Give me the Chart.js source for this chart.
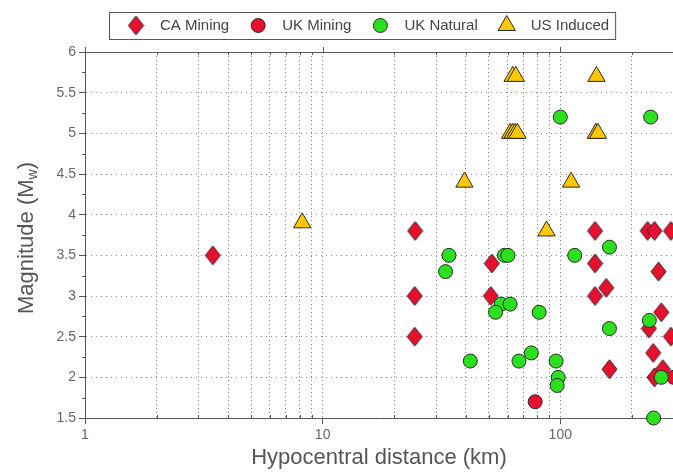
<!DOCTYPE html>
<html>
<head>
<meta charset="utf-8">
<script src="https://cdn.jsdelivr.net/npm/chart.js@4.4.1/dist/chart.umd.min.js"></script>
<style>
  html, body { margin: 0; padding: 0; background: #fff; }
  #wrap { width: 673px; height: 474px; position: relative; }
</style>
</head>
<body>
<div id="wrap"><canvas id="grafico"></canvas></div>
<script>
// Values (distance km, magnitude Mw)
const caMiningDist = [3.45, 24.5, 24.4, 24.4, 51.5, 51, 140, 140, 140, 156, 161, 233, 249, 292, 259, 266, 236, 292, 246, 249, 270];
const caMiningMag  = [3.5, 3.8, 3.0, 2.5, 3.4, 3.0, 3.8, 3.4, 3.0, 3.1, 2.1, 3.8, 3.8, 3.8, 3.3, 2.8, 2.6, 2.5, 2.3, 2.0, 2.1];

const ukMiningDist = [78.4, 300];
const ukMiningMag  = [1.7, 2.0];

const ukNaturalDist = [100, 240, 161, 115, 34, 32.9, 58.2, 60.2, 56.4, 61.5, 53.4, 81.5, 237, 161, 41.8, 67, 75.5, 96, 98, 97, 266, 247];
const ukNaturalMag  = [5.2, 5.2, 3.6, 3.5, 3.5, 3.3, 3.5, 3.5, 2.9, 2.9, 2.8, 2.8, 2.7, 2.6, 2.2, 2.2, 2.3, 2.2, 2.0, 1.9, 2.0, 1.5];

const usInducedDist = [8.2, 39.5, 111, 87.5, 63, 65, 142, 61.5, 63, 64.5, 66, 141, 144];
const usInducedMag  = [3.9, 4.4, 4.4, 3.8, 5.7, 5.7, 5.7, 5.0, 5.0, 5.0, 5.0, 5.0, 5.0];

const seriesNames = ['CA Mining', 'UK Mining', 'UK Natural', 'US Induced'];

// Axis ticks
const xTickLabels = [1, 10, 100];
const xTickValues = [1, 2, 3, 4, 5, 6, 7, 8, 9, 10, 20, 30, 40, 50, 60, 70, 80, 90, 100, 200];
const yTickLabels = [1.5, 2, 2.5, 3, 3.5, 4, 4.5, 5, 5.5, 6];

const FONT = '"Liberation Sans", Arial, sans-serif';
const RED = '#E8102E', GREEN = '#2BE01C', GOLD = '#FFC800', EDGE = '#2a2a2a';
const AXIS = '#555', GRID = '#8a8a8a';

const toPoints = (xs, ys) => xs.map((x, i) => ({ x, y: ys[i] }));

// diamond marker (taller than wide)
const makeDiamond = (w, h, fill, stroke) => {
  const c = document.createElement('canvas');
  c.width = w + 2; c.height = h + 2;
  const g = c.getContext('2d');
  g.beginPath();
  g.moveTo(c.width / 2, 1);
  g.lineTo(c.width - 1, c.height / 2);
  g.lineTo(c.width / 2, c.height - 1);
  g.lineTo(1, c.height / 2);
  g.closePath();
  g.fillStyle = fill; g.fill();
  g.strokeStyle = stroke; g.lineWidth = 1; g.stroke();
  return c;
}
const diamond = makeDiamond(15, 19, RED, EDGE);

// borders, minor ticks, y title and legend box
const decoracion = {
  id: 'decoracion',
  beforeDatasetsDraw(chart) {
    const { ctx, chartArea: a, scales: { x, y } } = chart;
    ctx.save();
    ctx.strokeStyle = AXIS;
    ctx.lineWidth = 1;
    ctx.beginPath();
    // top frame line
    ctx.moveTo(a.left, a.top + 0.5); ctx.lineTo(a.right, a.top + 0.5);
    xTickValues.forEach(v => {
      const px = Math.round(x.getPixelForValue(v)) + 0.5;
      if (xTickLabels.includes(v)) {
        ctx.moveTo(px, a.top); ctx.lineTo(px, a.top - 5);
      } else {
        ctx.moveTo(px, a.top); ctx.lineTo(px, a.top + 3);
        ctx.moveTo(px, a.bottom); ctx.lineTo(px, a.bottom - 3);
      }
    });
    // minor y ticks
    for (let i = 0; i < yTickLabels.length - 1; i++) {
      const py = Math.round(y.getPixelForValue((yTickLabels[i] + yTickLabels[i + 1]) / 2)) + 0.5;
      ctx.moveTo(a.left, py); ctx.lineTo(a.left - 3, py);
    }
    ctx.stroke();
    ctx.restore();
  },
  afterDraw(chart) {
    const { ctx, chartArea: a } = chart;
    ctx.save();
    // y title with subscript
    ctx.fillStyle = '#555';
    ctx.textBaseline = 'middle';
    ctx.translate(27, (a.top + a.bottom) / 2 + 3);
    ctx.rotate(-Math.PI / 2);
    const big = '22px ' + FONT, small = '14px ' + FONT;
    ctx.font = big;
    const w1 = ctx.measureText('Magnitude (M').width;
    const w3 = ctx.measureText(')').width;
    ctx.font = small;
    const w2 = ctx.measureText('w').width;
    let cx = -(w1 + w2 + w3) / 2;
    ctx.font = big; ctx.fillText('Magnitude (M', cx, 0); cx += w1;
    ctx.font = small; ctx.fillText('w', cx, 6); cx += w2;
    ctx.font = big; ctx.fillText(')', cx, 0);
    ctx.restore();

    // legend
    ctx.save();
    ctx.font = '15px ' + FONT;
    ctx.textBaseline = 'middle';
    const boxLeft = 109, boxTop = 12, boxH = 27, cy = boxTop + boxH / 2;
    let px = boxLeft + 27;
    chart.data.datasets.forEach((ds, i) => {
      ctx.fillStyle = ds.backgroundColor;
      ctx.strokeStyle = ds.borderColor;
      ctx.lineWidth = 1;
      if (ds.pointStyle === 'circle') {
        ctx.beginPath(); ctx.arc(px, cy, ds.pointRadius, 0, Math.PI * 2); ctx.fill(); ctx.stroke();
      } else if (ds.pointStyle === 'triangle') {
        const r = ds.pointRadius;
        ctx.beginPath();
        ctx.moveTo(px, cy - r);
        ctx.lineTo(px + Math.sin(Math.PI * 2 / 3) * r, cy + r / 2);
        ctx.lineTo(px - Math.sin(Math.PI * 2 / 3) * r, cy + r / 2);
        ctx.closePath(); ctx.fill(); ctx.stroke();
      } else {
        ctx.drawImage(ds.pointStyle, px - ds.pointStyle.width / 2, cy - ds.pointStyle.height / 2);
      }
      ctx.fillStyle = '#444';
      ctx.fillText(ds.label, px + 24, cy);
      px += 24 + ctx.measureText(ds.label).width + 29;
    });
    const boxRight = px - 29 + 6;
    ctx.strokeStyle = '#555';
    ctx.strokeRect(boxLeft + 0.5, boxTop + 0.5, boxRight - boxLeft, boxH);
    ctx.restore();
  }
}

const grafico = new Chart(document.getElementById('grafico'), {
  type: 'scatter',
  data: {
    datasets: [
      { label: seriesNames[0], data: toPoints(caMiningDist, caMiningMag), pointStyle: diamond, pointRadius: 9,
        backgroundColor: RED, borderColor: EDGE, order: 3, clip: false },
      { label: seriesNames[1], data: toPoints(ukMiningDist, ukMiningMag), pointStyle: 'circle', pointRadius: 7,
        backgroundColor: RED, borderColor: EDGE, borderWidth: 1, order: 2, clip: false },
      { label: seriesNames[2], data: toPoints(ukNaturalDist, ukNaturalMag), pointStyle: 'circle', pointRadius: 7,
        backgroundColor: GREEN, borderColor: EDGE, borderWidth: 1, order: 0, clip: false },
      { label: seriesNames[3], data: toPoints(usInducedDist, usInducedMag), pointStyle: 'triangle', pointRadius: 10,
        backgroundColor: GOLD, borderColor: EDGE, borderWidth: 1, order: 1, clip: false }
    ]
  },
  options: {
    responsive: true,
    maintainAspectRatio: false,
    animation: false,
    layout: { autoPadding: false, padding: { left: 0, right: 0, top: 52, bottom: 0 } },
    plugins: { legend: { display: false }, tooltip: { enabled: false } },
    scales: {
      x: {
        type: 'logarithmic',
        min: 1,
        max: 298,
        afterFit: s => { s.height = 56; },
        afterBuildTicks: s => { s.ticks = xTickValues.map(v => ({ value: v })); },
        ticks: {
          autoSkip: false, maxRotation: 0, padding: 3,
          color: '#666', font: { family: FONT, size: 14 },
          callback: v => xTickLabels.includes(v) ? String(v) : ''
        },
        grid: {
          color: c => c.tick && c.tick.value === 1 ? 'rgba(0,0,0,0)' : GRID,
          tickColor: c => c.tick && xTickLabels.includes(c.tick.value) ? AXIS : 'rgba(0,0,0,0)',
          tickLength: 6
        },
        border: { color: AXIS, width: 1, dash: [1, 3] },
        title: {
          display: true, text: 'Hypocentral distance (km)', color: '#555',
          font: { family: FONT, size: 22 }, padding: { top: 0, bottom: 3 }
        }
      },
      y: {
        min: 1.5,
        max: 6,
        afterFit: s => { s.width = 85; },
        afterBuildTicks: s => { s.ticks = yTickLabels.map(v => ({ value: v })); },
        ticks: {
          autoSkip: false, padding: 3,
          color: '#666', font: { family: FONT, size: 14 },
          callback: v => String(v)
        },
        grid: {
          color: c => c.tick && (c.tick.value === 1.5 || c.tick.value === 6) ? 'rgba(0,0,0,0)' : GRID,
          tickColor: AXIS,
          tickLength: 6
        },
        border: { color: AXIS, width: 1, dash: [1, 4] }
      }
    }
  },
  plugins: [decoracion]
});
</script>
</body>
</html>
